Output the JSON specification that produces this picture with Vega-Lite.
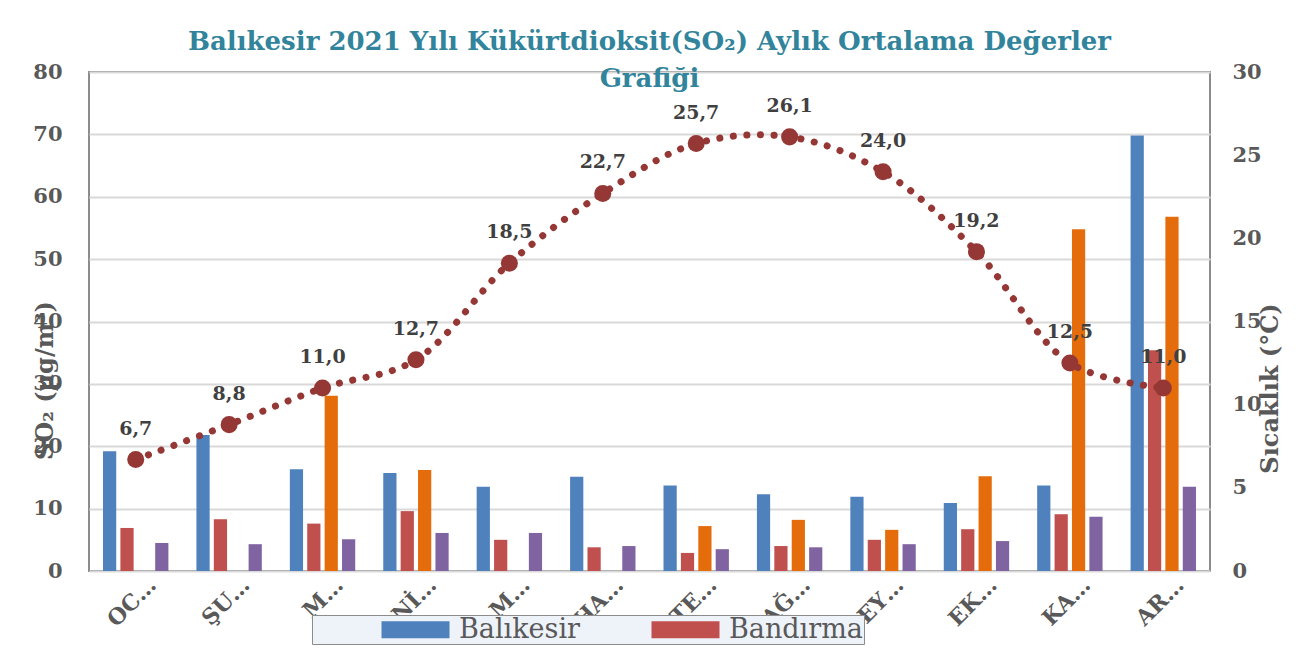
{
  "$schema": "https://vega.github.io/schema/vega-lite/v6.json",
  "width": 1121,
  "height": 499,
  "autosize": {"type": "none"},
  "padding": {"left": 89, "top": 72, "right": 91, "bottom": 100},
  "background": "white",
  "title": {
    "text": ["Balıkesir 2021 Yılı Kükürtdioksit(SO₂) Aylık Ortalama Değerler", "Grafiği"],
    "font": "DejaVu Serif",
    "fontSize": 26,
    "fontWeight": "bold",
    "color": "#31849B",
    "anchor": "middle",
    "frame": "group",
    "baseline": "bottom",
    "offset": -57,
    "lineHeight": 37
  },
  "datasets": {
    "so2": [
      {"month": "OCAK", "station": "Balıkesir", "so2": 19.2},
      {"month": "OCAK", "station": "Bandırma", "so2": 6.9},
      {"month": "OCAK", "station": "Seri 4", "so2": 4.5},
      {"month": "ŞUBAT", "station": "Balıkesir", "so2": 21.8},
      {"month": "ŞUBAT", "station": "Bandırma", "so2": 8.3},
      {"month": "ŞUBAT", "station": "Seri 4", "so2": 4.3},
      {"month": "MART", "station": "Balıkesir", "so2": 16.3},
      {"month": "MART", "station": "Bandırma", "so2": 7.6},
      {"month": "MART", "station": "Seri 3", "so2": 28.1},
      {"month": "MART", "station": "Seri 4", "so2": 5.1},
      {"month": "NİSAN", "station": "Balıkesir", "so2": 15.7},
      {"month": "NİSAN", "station": "Bandırma", "so2": 9.6},
      {"month": "NİSAN", "station": "Seri 3", "so2": 16.2},
      {"month": "NİSAN", "station": "Seri 4", "so2": 6.1},
      {"month": "MAYIS", "station": "Balıkesir", "so2": 13.5},
      {"month": "MAYIS", "station": "Bandırma", "so2": 5.0},
      {"month": "MAYIS", "station": "Seri 4", "so2": 6.1},
      {"month": "HAZİRAN", "station": "Balıkesir", "so2": 15.1},
      {"month": "HAZİRAN", "station": "Bandırma", "so2": 3.8},
      {"month": "HAZİRAN", "station": "Seri 4", "so2": 4.0},
      {"month": "TEMMUZ", "station": "Balıkesir", "so2": 13.7},
      {"month": "TEMMUZ", "station": "Bandırma", "so2": 2.9},
      {"month": "TEMMUZ", "station": "Seri 3", "so2": 7.2},
      {"month": "TEMMUZ", "station": "Seri 4", "so2": 3.5},
      {"month": "AĞUSTOS", "station": "Balıkesir", "so2": 12.3},
      {"month": "AĞUSTOS", "station": "Bandırma", "so2": 4.0},
      {"month": "AĞUSTOS", "station": "Seri 3", "so2": 8.2},
      {"month": "AĞUSTOS", "station": "Seri 4", "so2": 3.8},
      {"month": "EYLÜL", "station": "Balıkesir", "so2": 11.9},
      {"month": "EYLÜL", "station": "Bandırma", "so2": 5.0},
      {"month": "EYLÜL", "station": "Seri 3", "so2": 6.6},
      {"month": "EYLÜL", "station": "Seri 4", "so2": 4.3},
      {"month": "EKİM", "station": "Balıkesir", "so2": 10.9},
      {"month": "EKİM", "station": "Bandırma", "so2": 6.7},
      {"month": "EKİM", "station": "Seri 3", "so2": 15.2},
      {"month": "EKİM", "station": "Seri 4", "so2": 4.8},
      {"month": "KASIM", "station": "Balıkesir", "so2": 13.7},
      {"month": "KASIM", "station": "Bandırma", "so2": 9.1},
      {"month": "KASIM", "station": "Seri 3", "so2": 54.8},
      {"month": "KASIM", "station": "Seri 4", "so2": 8.7},
      {"month": "ARALIK", "station": "Balıkesir", "so2": 69.8},
      {"month": "ARALIK", "station": "Bandırma", "so2": 35.4},
      {"month": "ARALIK", "station": "Seri 3", "so2": 56.8},
      {"month": "ARALIK", "station": "Seri 4", "so2": 13.5}
    ],
    "temp": [
      {"month": "OCAK", "temp": 6.7},
      {"month": "ŞUBAT", "temp": 8.8},
      {"month": "MART", "temp": 11.0},
      {"month": "NİSAN", "temp": 12.7},
      {"month": "MAYIS", "temp": 18.5},
      {"month": "HAZİRAN", "temp": 22.7},
      {"month": "TEMMUZ", "temp": 25.7},
      {"month": "AĞUSTOS", "temp": 26.1},
      {"month": "EYLÜL", "temp": 24.0},
      {"month": "EKİM", "temp": 19.2},
      {"month": "KASIM", "temp": 12.5},
      {"month": "ARALIK", "temp": 11.0}
    ]
  },
  "layer": [
    {
      "data": {"name": "so2"},
      "mark": {"type": "bar"},
      "encoding": {
        "x": {
          "field": "month",
          "type": "nominal",
          "sort": ["OCAK", "ŞUBAT", "MART", "NİSAN", "MAYIS", "HAZİRAN", "TEMMUZ", "AĞUSTOS", "EYLÜL", "EKİM", "KASIM", "ARALIK"],
          "scale": {"paddingInner": 0.3, "paddingOuter": 0.15},
          "axis": {
            "title": null,
            "labelAngle": -45,
            "labelAlign": "right",
            "labelBaseline": "middle",
            "labelPadding": 10,
            "labelOffset": 17,
            "labelFont": "DejaVu Serif",
            "labelFontSize": 22,
            "labelFontWeight": "bold",
            "labelColor": "#595959",
            "labelExpr": "(datum.label == 'MART' || datum.label == 'MAYIS' ? slice(datum.label, 0, 1) : slice(datum.label, 0, 2)) + '…'",
            "ticks": false,
            "domain": false,
            "grid": false
          }
        },
        "xOffset": {
          "field": "station",
          "type": "nominal",
          "sort": ["Balıkesir", "Bandırma", "Seri 3", "Seri 4"],
          "scale": {"paddingInner": 0.24, "paddingOuter": 0}
        },
        "y": {
          "field": "so2",
          "type": "quantitative",
          "scale": {"domain": [0, 80], "nice": false},
          "axis": {
            "title": "SO₂ (µg/m³)",
            "titleFont": "DejaVu Serif",
            "titleFontSize": 24,
            "titleFontWeight": "bold",
            "titleColor": "#595959",
            "titleAngle": -90,
            "titleAlign": "center",
            "titleBaseline": "middle",
            "titleX": -44,
            "titleY": 308,
            "values": [0, 10, 20, 30, 40, 50, 60, 70, 80],
            "labelFont": "DejaVu Serif",
            "labelFontSize": 21,
            "labelFontWeight": "bold",
            "labelColor": "#595959",
            "labelPadding": 27,
            "ticks": false,
            "domain": false,
            "grid": true,
            "gridColor": "#D9D9D9",
            "gridWidth": 2
          }
        },
        "color": {
          "field": "station",
          "type": "nominal",
          "scale": {
            "domain": ["Balıkesir", "Bandırma", "Seri 3", "Seri 4"],
            "range": ["#4F81BD", "#C0504D", "#E46C0A", "#8064A2"]
          },
          "legend": {
            "orient": "none",
            "legendX": 223,
            "legendY": 543,
            "direction": "horizontal",
            "title": null,
            "values": ["Balıkesir", "Bandırma"],
            "fillColor": "#EEF2F9",
            "strokeColor": "#8C8C8C",
            "padding": 1,
            "symbolType": "M-4,-1H4V1H-4Z",
            "symbolSize": 289,
            "symbolOffset": 89,
            "symbolStrokeWidth": 0,
            "symbolOpacity": 1,
            "labelOffset": 30,
            "labelLimit": 400,
            "columnPadding": 3,
            "labelFont": "DejaVu Serif",
            "labelFontSize": 27,
            "labelColor": "#595959",
            "labelExpr": "datum.label == 'Bandırma' ? datum.label + '\u2007\u2007\u2007\u2007\u2007\u2007\u2007' : datum.label"
          }
        }
      }
    },
    {
      "data": {"name": "temp"},
      "encoding": {
        "x": {
          "field": "month",
          "type": "nominal",
          "sort": ["OCAK", "ŞUBAT", "MART", "NİSAN", "MAYIS", "HAZİRAN", "TEMMUZ", "AĞUSTOS", "EYLÜL", "EKİM", "KASIM", "ARALIK"],
          "axis": {"title": null}
        },
        "y": {
          "field": "temp",
          "type": "quantitative",
          "scale": {"domain": [0, 30], "nice": false},
          "axis": {
            "orient": "right",
            "title": "Sıcaklık (°C)",
            "titleFont": "DejaVu Serif",
            "titleFontSize": 24,
            "titleFontWeight": "bold",
            "titleColor": "#595959",
            "titleAngle": -90,
            "titleAlign": "center",
            "titleBaseline": "middle",
            "titleX": 60,
            "titleY": 316,
            "values": [0, 5, 10, 15, 20, 25, 30],
            "labelFont": "DejaVu Serif",
            "labelFontSize": 21,
            "labelFontWeight": "bold",
            "labelColor": "#595959",
            "labelPadding": 22,
            "ticks": false,
            "domain": false,
            "grid": false
          }
        }
      },
      "layer": [
        {
          "mark": {
            "type": "line",
            "interpolate": "catmull-rom",
            "color": "#953735",
            "strokeWidth": 7,
            "strokeCap": "round",
            "strokeDash": [0.1, 13.5]
          }
        },
        {
          "mark": {"type": "point", "shape": "circle", "filled": true, "size": 290, "color": "#953735", "opacity": 1}
        },
        {
          "mark": {
            "type": "text",
            "dy": -25,
            "baseline": "alphabetic",
            "font": "DejaVu Serif",
            "fontSize": 19,
            "fontWeight": "bold",
            "color": "#404040"
          },
          "encoding": {
            "text": {"field": "temp", "type": "quantitative", "format": ".1f"}
          }
        }
      ]
    }
  ],
  "resolve": {"scale": {"y": "independent"}},
  "config": {
    "locale": {"number": {"decimal": ",", "thousands": ".", "grouping": [3], "currency": ["", " ₺"]}},
    "view": {"stroke": "#8C8C8C", "strokeWidth": 2}
  }
}
